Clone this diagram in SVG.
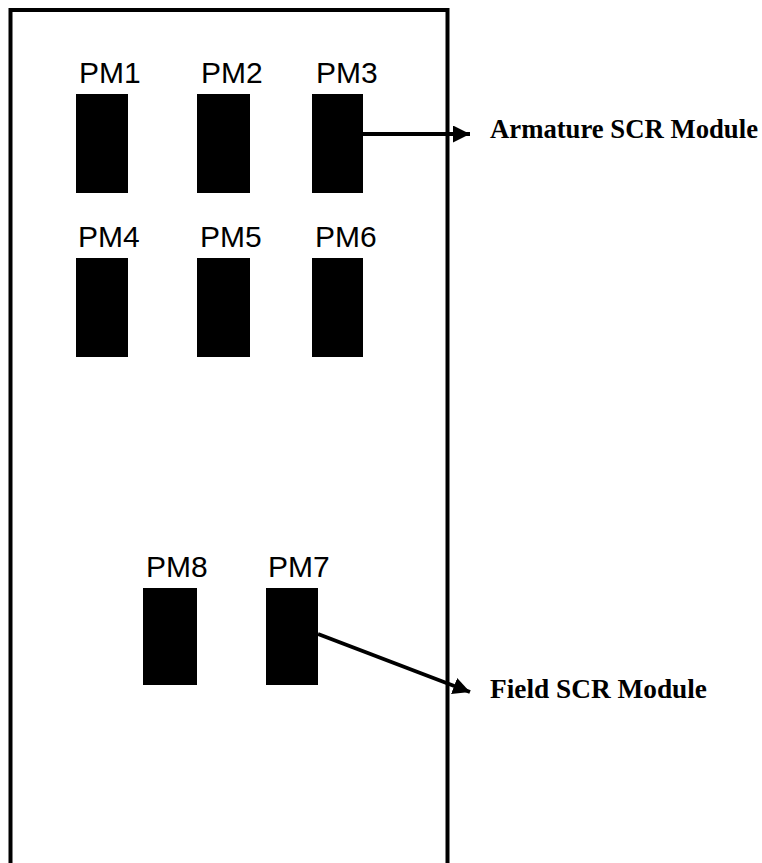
<svg xmlns="http://www.w3.org/2000/svg" width="762" height="863" viewBox="0 0 762 863">
<style>
.pm{fill:#000}
.lbl{font-family:"Liberation Sans",Arial,sans-serif;font-size:30px;fill:#000}
.cap{font-family:"Liberation Serif","Times New Roman",serif;font-size:27px;font-weight:bold;fill:#000}
.con{stroke:#000;stroke-width:4;fill:none}
</style>
<defs>
<marker id="ah" markerUnits="userSpaceOnUse" markerWidth="20" markerHeight="20" refX="17" refY="8.5" orient="auto">
<path d="M0,0 L17,8.5 L0,17 Z" fill="#000"/>
</marker>
</defs>
<rect width="762" height="863" fill="#fff"/>
<g id="cabinet"><rect x="10.5" y="10" width="437" height="900" fill="none" stroke="#000" stroke-width="4"/></g>
<g id="pm1"><rect class="pm" x="76" y="94" width="52" height="99"/><text class="lbl" x="79" y="83">PM1</text></g>
<g id="pm2"><rect class="pm" x="197" y="94" width="53" height="99"/><text class="lbl" x="201" y="83">PM2</text></g>
<g id="pm3"><rect class="pm" x="312" y="94" width="51" height="99"/><text class="lbl" x="316" y="83">PM3</text></g>
<g id="pm4"><rect class="pm" x="76" y="258" width="52" height="99"/><text class="lbl" x="78" y="247">PM4</text></g>
<g id="pm5"><rect class="pm" x="197" y="258" width="53" height="99"/><text class="lbl" x="200" y="247">PM5</text></g>
<g id="pm6"><rect class="pm" x="312" y="258" width="51" height="99"/><text class="lbl" x="315" y="247">PM6</text></g>
<g id="pm8"><rect class="pm" x="143" y="588" width="54" height="97"/><text class="lbl" x="146" y="577">PM8</text></g>
<g id="pm7"><rect class="pm" x="266" y="588" width="52" height="97"/><text class="lbl" x="268" y="577">PM7</text></g>
<g id="connectors">
<line class="con" x1="363" y1="134" x2="470" y2="134" marker-end="url(#ah)"/>
<line class="con" x1="318" y1="634" x2="470" y2="692" marker-end="url(#ah)"/>
</g>
<g id="labels">
<text class="cap" x="490" y="138" textLength="268" lengthAdjust="spacingAndGlyphs">Armature SCR Module</text>
<text class="cap" x="490" y="698" textLength="217" lengthAdjust="spacingAndGlyphs">Field SCR Module</text>
</g>
</svg>
